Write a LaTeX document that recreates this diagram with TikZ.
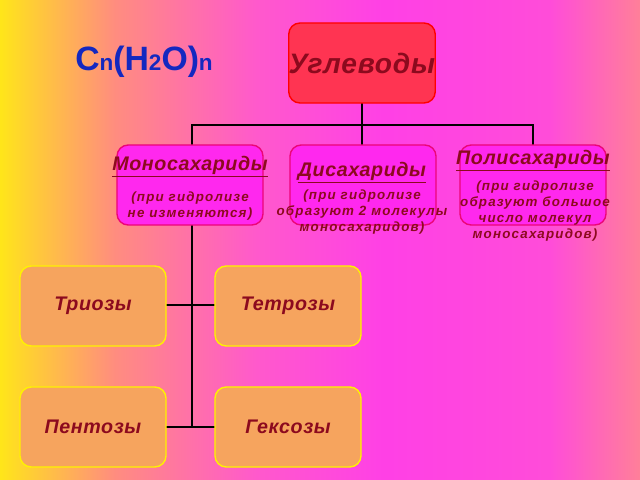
\documentclass[tikz,border=0pt]{standalone}
\usepackage{fontspec}
\setmainfont{Liberation Sans}
\newfontfamily\spacedfont[LetterSpace=9]{Liberation Sans}
\newfontfamily\headfont[LetterSpace=3]{Liberation Sans}
\usetikzlibrary{positioning}
\definecolor{rootred}{HTML}{FF3452}
\definecolor{midpink}{HTML}{FF28EE}
\definecolor{loworange}{HTML}{F6A45E}
\definecolor{txtred}{HTML}{8C0A1E}
\definecolor{formblue}{HTML}{1428C0}
\pgfdeclarehorizontalshading{bgshade}{100bp}{
  rgb(0bp)=(1,0.9,0.1); rgb(25bp)=(1,0.9,0.1); rgb(34bp)=(1,0.55,0.5); rgb(45bp)=(1,0.35,0.8);
  rgb(55bp)=(1,0.25,0.9); rgb(68bp)=(1,0.3,0.85); rgb(75bp)=(1,0.5,0.6); rgb(100bp)=(1,0.5,0.6)}
\tikzset{
  box/.style={draw, line width=1pt, rounded corners=8pt, minimum width=3.65cm, minimum height=2cm,
    inner sep=0pt, text=txtred, font=\bfseries\itshape, align=center},
  rootbox/.style={box, fill=rootred, draw=red, font=\headfont\bfseries\itshape\fontsize{20}{22}\selectfont},
  midbox/.style={box, fill=midpink, draw=magenta!80!red},
  lowbox/.style={box, fill=loworange, draw=yellow, font=\headfont\bfseries\itshape\fontsize{14}{16}\selectfont},
  head/.style={font=\headfont\bfseries\itshape\fontsize{14}{16}\selectfont},
  note/.style={font=\spacedfont\bfseries\itshape\fontsize{9.5}{11.5}\selectfont, align=center},
  link/.style={line width=2pt, black}
}
\begin{document}
\begin{tikzpicture}[x=0.025cm, y=-0.025cm]
  % background
  \shade[shading=bgshade] (0,0) rectangle (640,480);
  \useasboundingbox (0,0) rectangle (640,480);

  % tree links
  \coordinate (bar) at (362,125);
  \draw[link] (362,103) -- (bar);
  \draw[link] (192,145) |- (533,125) -- (533,145);
  \draw[link] (362,125) -- (362,145);
  \draw[link] (192,225) -- (192,427);
  \draw[link] (165,305) -- (215,305);
  \draw[link] (165,427) -- (215,427);

  % boxes
  \node[rootbox] (carbs) at (362,63) {Углеводы};
  \node[midbox] (mono) at (190,185) {};
  \node[midbox] (di) at (363,185) {};
  \node[midbox] (poly) at (533,185) {};
  \node[lowbox] (tri) at (93,306) {Триозы};
  \node[lowbox] (tetra) at (288,306) {Тетрозы};
  \node[lowbox] (penta) at (93,427) {Пентозы};
  \node[lowbox] (hexa) at (288,427) {Гексозы};

  % labels
  \node[head, text=txtred] (monoh) at (190,167) {\underline{Моносахариды}};
  \node[note, text=txtred] (monon) at (190,206) {(при гидролизе\\не изменяются)};
  \node[head, text=txtred] (dih) at (362,173) {\underline{Дисахариды}};
  \node[note, text=txtred] (din) at (362,212) {(при гидролизе\\образуют 2 молекулы\\моносахаридов)};
  \node[head, text=txtred] (polyh) at (533,161) {\underline{Полисахариды}};
  \node[note, text=txtred] (polyn) at (535,211) {(при гидролизе\\образуют большое\\число молекул\\моносахаридов)};

  \node[text=formblue, font=\bfseries\fontsize{24}{26}\selectfont] (formula) at (144,62)
    {C{\fontsize{16}{16}\selectfont n}(H{\fontsize{16}{16}\selectfont 2}O){\fontsize{16}{16}\selectfont n}};
\end{tikzpicture}
\end{document}
